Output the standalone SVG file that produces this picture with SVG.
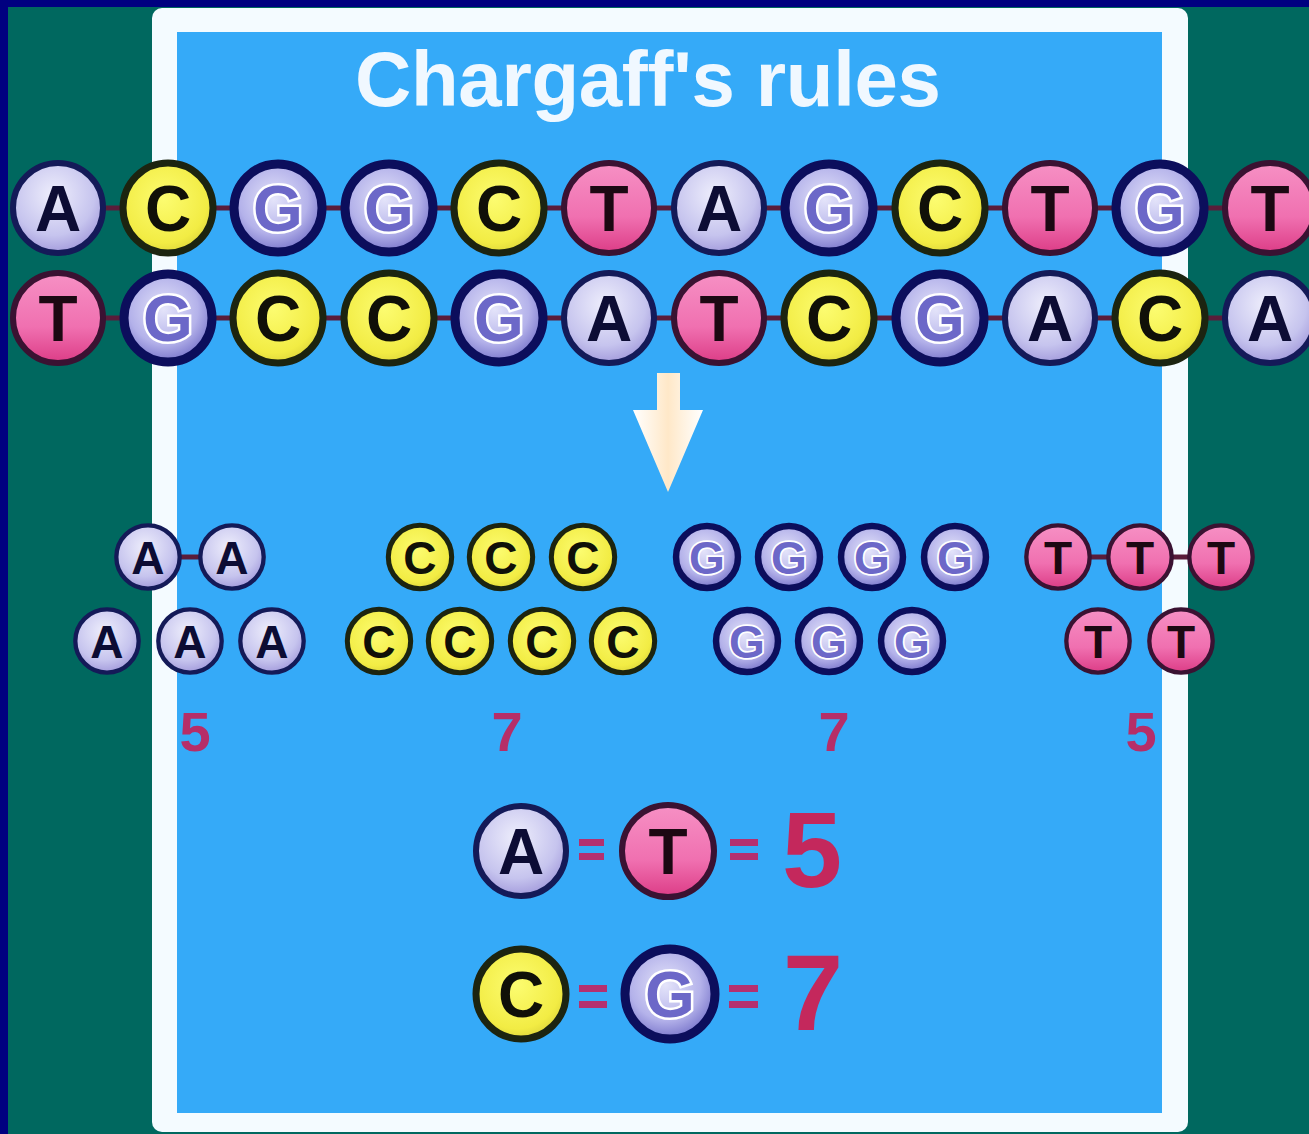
<svg xmlns="http://www.w3.org/2000/svg" width="1309" height="1134" viewBox="0 0 1309 1134">
<defs>
<radialGradient id="gA" cx="0.45" cy="0.35" r="0.65"><stop offset="0" stop-color="#eeeefc"/><stop offset="0.7" stop-color="#c6c4ee"/><stop offset="1" stop-color="#a49cdc"/></radialGradient>
<radialGradient id="gC" cx="0.45" cy="0.4" r="0.65"><stop offset="0" stop-color="#fcfc70"/><stop offset="0.75" stop-color="#f2ec44"/><stop offset="1" stop-color="#d8d038"/></radialGradient>
<radialGradient id="gG" cx="0.45" cy="0.4" r="0.65"><stop offset="0" stop-color="#e4e4fa"/><stop offset="0.6" stop-color="#b4b2ea"/><stop offset="1" stop-color="#6c68c4"/></radialGradient>
<linearGradient id="gT" x1="0" y1="0" x2="0" y2="1"><stop offset="0" stop-color="#f690c4"/><stop offset="0.6" stop-color="#f070b0"/><stop offset="1" stop-color="#dc3c86"/></linearGradient>
<linearGradient id="gArrow" x1="0" y1="0" x2="1" y2="0"><stop offset="0" stop-color="#ffffff"/><stop offset="0.5" stop-color="#ffe8c8"/><stop offset="1" stop-color="#ffffff"/></linearGradient>
</defs>
<style>
.t{font-family:"Liberation Sans",Arial,sans-serif;font-weight:bold;text-anchor:middle}
.cA{fill:url(#gA);stroke:#141a58;stroke-width:6}
.cC{fill:url(#gC);stroke:#1c2410;stroke-width:7}
.cG{fill:url(#gG);stroke:#0c0e5c;stroke-width:9}
.cT{fill:url(#gT);stroke:#3a1232;stroke-width:6}
.lA{fill:#0c0c34;font-size:64px}
.lC{fill:#101008;font-size:64px}
.lG{fill:#6c68c8;stroke:#ffffff;stroke-width:5;paint-order:stroke;font-size:64px}
.lT{fill:#1c0812;font-size:64px}
.link{stroke:#5a1c3a;stroke-width:5}
.cnt{fill:#b62e68;font-size:56px}
.big{fill:#c4285c;font-size:108px}
.eq{fill:#b43070}
</style>
<rect x="0" y="0" width="1309" height="1134" fill="#000080"/>
<rect x="8" y="7" width="1301" height="1127" fill="#00685f"/>
<rect x="152" y="8" width="1036" height="1124" rx="10" fill="#f4fbff"/>
<rect x="177" y="32" width="985" height="1081" fill="#35aaf8"/>
<text class="t" x="648" y="106" font-size="78" fill="#f0f8ff" textLength="586" lengthAdjust="spacing">Chargaff's rules</text>
<g id="connectors">
<line class="link" x1="58" y1="208" x2="1270" y2="208"/>
<line class="link" x1="58" y1="318" x2="1270" y2="318"/>
<line class="link" x1="148" y1="557" x2="232" y2="557"/>
<line class="link" x1="1058" y1="557" x2="1221" y2="557"/>
<path id="arrow" d="M657,373 H680 V410 H703 L668,492 L633,410 H657 Z" fill="url(#gArrow)"/>
</g>
<g id="strand1">
<g id="s1-0" transform="translate(58,208)"><circle class="cA" r="45"/><text class="t lA" y="23">A</text></g>
<g id="s1-1" transform="translate(168,208)"><circle class="cC" r="45"/><text class="t lC" y="23">C</text></g>
<g id="s1-2" transform="translate(278,208)"><circle class="cG" r="44"/><text class="t lG" y="23">G</text></g>
<g id="s1-3" transform="translate(389,208)"><circle class="cG" r="44"/><text class="t lG" y="23">G</text></g>
<g id="s1-4" transform="translate(499,208)"><circle class="cC" r="45"/><text class="t lC" y="23">C</text></g>
<g id="s1-5" transform="translate(609,208)"><circle class="cT" r="45"/><text class="t lT" y="23">T</text></g>
<g id="s1-6" transform="translate(719,208)"><circle class="cA" r="45"/><text class="t lA" y="23">A</text></g>
<g id="s1-7" transform="translate(829,208)"><circle class="cG" r="44"/><text class="t lG" y="23">G</text></g>
<g id="s1-8" transform="translate(940,208)"><circle class="cC" r="45"/><text class="t lC" y="23">C</text></g>
<g id="s1-9" transform="translate(1050,208)"><circle class="cT" r="45"/><text class="t lT" y="23">T</text></g>
<g id="s1-10" transform="translate(1160,208)"><circle class="cG" r="44"/><text class="t lG" y="23">G</text></g>
<g id="s1-11" transform="translate(1270,208)"><circle class="cT" r="45"/><text class="t lT" y="23">T</text></g>
</g>
<g id="strand2">
<g id="s2-0" transform="translate(58,318)"><circle class="cT" r="45"/><text class="t lT" y="23">T</text></g>
<g id="s2-1" transform="translate(168,318)"><circle class="cG" r="44"/><text class="t lG" y="23">G</text></g>
<g id="s2-2" transform="translate(278,318)"><circle class="cC" r="45"/><text class="t lC" y="23">C</text></g>
<g id="s2-3" transform="translate(389,318)"><circle class="cC" r="45"/><text class="t lC" y="23">C</text></g>
<g id="s2-4" transform="translate(499,318)"><circle class="cG" r="44"/><text class="t lG" y="23">G</text></g>
<g id="s2-5" transform="translate(609,318)"><circle class="cA" r="45"/><text class="t lA" y="23">A</text></g>
<g id="s2-6" transform="translate(719,318)"><circle class="cT" r="45"/><text class="t lT" y="23">T</text></g>
<g id="s2-7" transform="translate(829,318)"><circle class="cC" r="45"/><text class="t lC" y="23">C</text></g>
<g id="s2-8" transform="translate(940,318)"><circle class="cG" r="44"/><text class="t lG" y="23">G</text></g>
<g id="s2-9" transform="translate(1050,318)"><circle class="cA" r="45"/><text class="t lA" y="23">A</text></g>
<g id="s2-10" transform="translate(1160,318)"><circle class="cC" r="45"/><text class="t lC" y="23">C</text></g>
<g id="s2-11" transform="translate(1270,318)"><circle class="cA" r="45"/><text class="t lA" y="23">A</text></g>
</g>
<g id="sorted">
<g id="a1" transform="translate(148,557) scale(0.72)"><circle class="cA" r="44"/><text class="t lA" y="23">A</text></g>
<g id="a2" transform="translate(232,557) scale(0.72)"><circle class="cA" r="44"/><text class="t lA" y="23">A</text></g>
<g id="a3" transform="translate(107,641) scale(0.72)"><circle class="cA" r="44"/><text class="t lA" y="23">A</text></g>
<g id="a4" transform="translate(190,641) scale(0.72)"><circle class="cA" r="44"/><text class="t lA" y="23">A</text></g>
<g id="a5" transform="translate(272,641) scale(0.72)"><circle class="cA" r="44"/><text class="t lA" y="23">A</text></g>
<g id="c1" transform="translate(420,557) scale(0.72)"><circle class="cC" r="44"/><text class="t lC" y="23">C</text></g>
<g id="c2" transform="translate(501,557) scale(0.72)"><circle class="cC" r="44"/><text class="t lC" y="23">C</text></g>
<g id="c3" transform="translate(583,557) scale(0.72)"><circle class="cC" r="44"/><text class="t lC" y="23">C</text></g>
<g id="c4" transform="translate(379,641) scale(0.72)"><circle class="cC" r="44"/><text class="t lC" y="23">C</text></g>
<g id="c5" transform="translate(460,641) scale(0.72)"><circle class="cC" r="44"/><text class="t lC" y="23">C</text></g>
<g id="c6" transform="translate(542,641) scale(0.72)"><circle class="cC" r="44"/><text class="t lC" y="23">C</text></g>
<g id="c7" transform="translate(623,641) scale(0.72)"><circle class="cC" r="44"/><text class="t lC" y="23">C</text></g>
<g id="g1" transform="translate(707,557) scale(0.72)"><circle class="cG" r="43"/><text class="t lG" y="23">G</text></g>
<g id="g2" transform="translate(789,557) scale(0.72)"><circle class="cG" r="43"/><text class="t lG" y="23">G</text></g>
<g id="g3" transform="translate(872,557) scale(0.72)"><circle class="cG" r="43"/><text class="t lG" y="23">G</text></g>
<g id="g4" transform="translate(955,557) scale(0.72)"><circle class="cG" r="43"/><text class="t lG" y="23">G</text></g>
<g id="g5" transform="translate(747,641) scale(0.72)"><circle class="cG" r="43"/><text class="t lG" y="23">G</text></g>
<g id="g6" transform="translate(829,641) scale(0.72)"><circle class="cG" r="43"/><text class="t lG" y="23">G</text></g>
<g id="g7" transform="translate(912,641) scale(0.72)"><circle class="cG" r="43"/><text class="t lG" y="23">G</text></g>
<g id="t1" transform="translate(1058,557) scale(0.72)"><circle class="cT" r="44"/><text class="t lT" y="23">T</text></g>
<g id="t2" transform="translate(1140,557) scale(0.72)"><circle class="cT" r="44"/><text class="t lT" y="23">T</text></g>
<g id="t3" transform="translate(1221,557) scale(0.72)"><circle class="cT" r="44"/><text class="t lT" y="23">T</text></g>
<g id="t4" transform="translate(1098,641) scale(0.72)"><circle class="cT" r="44"/><text class="t lT" y="23">T</text></g>
<g id="t5" transform="translate(1181,641) scale(0.72)"><circle class="cT" r="44"/><text class="t lT" y="23">T</text></g>
</g>
<g id="counts">
<text class="t cnt" x="195" y="751">5</text>
<text class="t cnt" x="507" y="751">7</text>
<text class="t cnt" x="834" y="751">7</text>
<text class="t cnt" x="1141" y="751">5</text>
</g>
<g id="eq-AT">
<g transform="translate(521,851)"><circle class="cA" r="45"/><text class="t lA" y="23">A</text></g>
<rect class="eq" x="579" y="839" width="25" height="7"/><rect class="eq" x="579" y="853" width="25" height="7"/>
<g transform="translate(668,851)"><circle class="cT" r="46"/><text class="t lT" y="23">T</text></g>
<rect class="eq" x="730" y="839" width="28" height="7"/><rect class="eq" x="730" y="853" width="28" height="7"/>
<text class="t big" x="812" y="887">5</text>
</g>
<g id="eq-CG">
<g transform="translate(521,994)"><circle class="cC" r="45"/><text class="t lC" y="23">C</text></g>
<rect class="eq" x="579" y="985" width="28" height="7"/><rect class="eq" x="579" y="1001" width="28" height="7"/>
<g transform="translate(670,994)"><circle class="cG" r="45"/><text class="t lG" y="23">G</text></g>
<rect class="eq" x="729" y="985" width="29" height="7"/><rect class="eq" x="729" y="1001" width="29" height="7"/>
<text class="t big" x="813" y="1030">7</text>
</g>
</svg>
